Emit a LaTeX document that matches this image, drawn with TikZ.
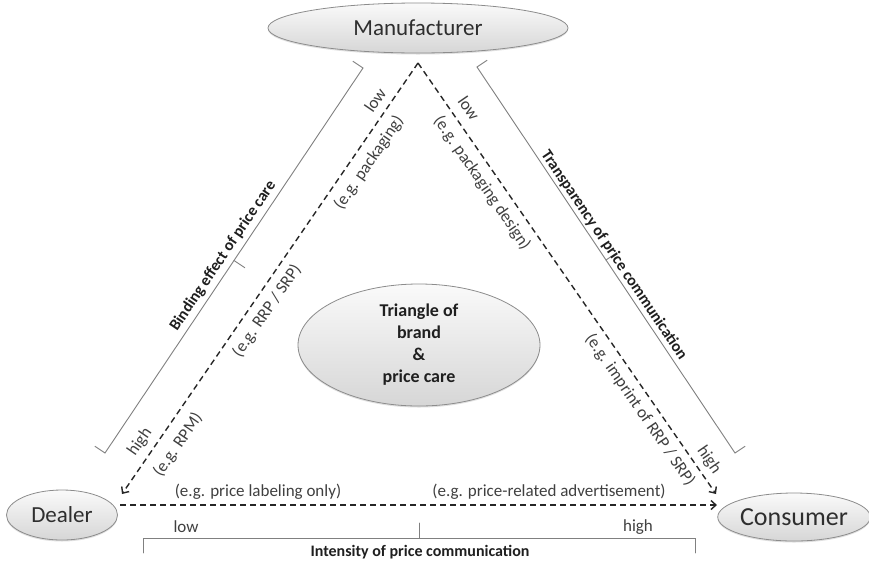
\documentclass[tikz,border=0pt]{standalone}
\usepackage{fontspec}
\setmainfont{Carlito}
\usetikzlibrary{calc,arrows.meta,shapes.geometric,shadows}
\definecolor{txt}{HTML}{404040}
\definecolor{nodetxt}{HTML}{2E2E2E}
\definecolor{boldtxt}{HTML}{1F1F1F}
\definecolor{brcol}{HTML}{808080}
\definecolor{edgecol}{HTML}{8C8C8C}
\begin{document}
\begin{tikzpicture}[x=1pt,y=-1pt,
  bubble/.style={ellipse, draw=edgecol, line width=0.8pt, top color=gray!4, bottom color=gray!32, inner sep=0pt, text=nodetxt,
    drop shadow={shadow xshift=0pt, shadow yshift=-1.5pt, opacity=0.25}},
  lbl/.style={text=txt, font=\fontsize{17}{20}\selectfont, inner sep=0pt},
  blbl/.style={text=boldtxt, font=\bfseries\fontsize{16}{19}\selectfont, inner sep=0pt},
  dsh/.style={draw=black!85, line width=1.4pt, dash pattern=on 6pt off 4pt, -{Straight Barb[length=5pt,width=9pt]}},
  brline/.style={draw=brcol, line width=0.9pt, line cap=round}
]
\useasboundingbox (0,0) rectangle (869,563);
\fill[white] (0,0) rectangle (869,563);

% ellipses
\node[bubble, minimum width=300pt, minimum height=50pt, font=\fontsize{23}{27}\selectfont] (man) at (418,28) {Manufacturer};
\node[bubble, minimum width=111pt, minimum height=50pt, font=\fontsize{23}{27}\selectfont] (dea) at (62,515) {Dealer};
\node[bubble, minimum width=148pt, minimum height=48pt, font=\fontsize{26}{30}\selectfont] (con) at (794,517) {Consumer};
\node[bubble, minimum width=242pt, minimum height=122pt, align=center, text=boldtxt, font=\bfseries\fontsize{18}{22}\selectfont] (tri) at (419,345) {Triangle of\\brand\\\&\\price care};

% dashed arrows
\coordinate (apex) at (418,63);
\coordinate (dtip) at (122,494);
\coordinate (ctip) at (716,494);
\coordinate (hs) at (120,505);
\coordinate (he) at (717,505);
\draw[dsh] (apex) -- (dtip);
\draw[dsh] (apex) -- (ctip);
\draw[dsh] (hs) -- (he);

% braces
\coordinate (LS) at (363,68);
\coordinate (LE) at (105,453);
\coordinate (LM) at ($(LS)!0.5!(LE)$);
\draw[brline] ($(LS)!12pt!-90:(LE)$) -- (LS) -- (LE) -- ($(LE)!12pt!90:(LS)$);
\draw[brline] (LM) -- ($(LM)!13pt!90:(LE)$);

\coordinate (RS) at (735,453);
\coordinate (RE) at (477,67);
\coordinate (RM) at ($(RS)!0.5!(RE)$);
\draw[brline] ($(RS)!12pt!-90:(RE)$) -- (RS) -- (RE) -- ($(RE)!12pt!90:(RS)$);
\draw[brline] (RM) -- ($(RM)!13pt!-90:(RE)$);

\coordinate (BS) at (143,538);
\coordinate (BE) at (695,538);
\coordinate (BM) at ($(BS)!0.5!(BE)$);
\draw[brline] ($(BS)!15pt!-90:(BE)$) -- (BS) -- (BE) -- ($(BE)!15pt!90:(BS)$);
\draw[brline] (BM) -- ($(BM)!15pt!90:(BE)$);

% left side labels
\node[lbl, rotate=55.5] (llow) at (375,100) {low};
\node[lbl, rotate=55.5] (lpack) at (369,163) {(e.g. packaging)};
\node[lbl, rotate=55.5] (lrrp) at (267,311) {(e.g. RRP / SRP)};
\node[lbl, rotate=55.5] (lhigh) at (140,442) {high};
\node[lbl, rotate=55.5] (lrpm) at (178,445) {(e.g. RPM)};
\node[blbl, rotate=56] (lbind) at (223,256) {Binding effect of price care};

% right side labels
\node[lbl, rotate=-55.5] (rlow) at (469,108) {low};
\node[lbl, rotate=-55.5] (rpack) at (482,183) {(e.g. packaging design)};
\node[lbl, rotate=-55.5] (rimp) at (640,410) {(e.g. imprint of RRP / SRP)};
\node[lbl, rotate=-55.5] (rhigh) at (709,460) {high};
\node[blbl, rotate=-56] (rtrans) at (614,255) {Transparency of price communication};

% bottom labels
\node[lbl] (blab) at (258,492) {(e.g. price labeling only)};
\node[lbl] (badv) at (549,492) {(e.g. price-related advertisement)};
\node[lbl] (blow) at (186,527) {low};
\node[lbl] (bhigh) at (638,527) {high};
\node[blbl] (bint) at (420,552) {Intensity of price communication};
\end{tikzpicture}
\end{document}
